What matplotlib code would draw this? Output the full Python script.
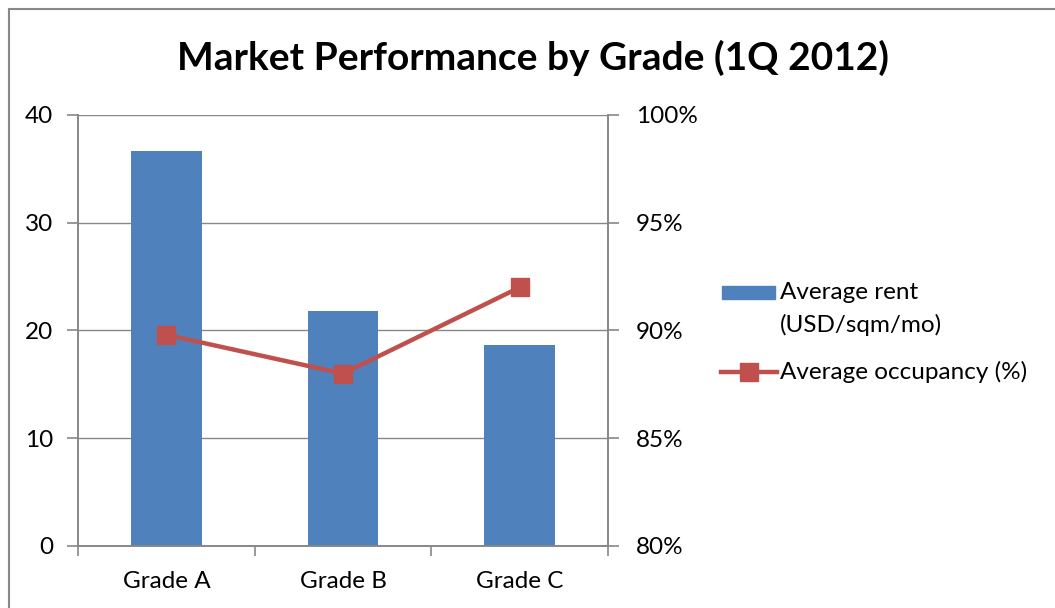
import matplotlib
matplotlib.use("Agg")
import matplotlib.pyplot as plt
from matplotlib.patches import Rectangle
from matplotlib.lines import Line2D
from matplotlib.ticker import FuncFormatter

categories = ["Grade A", "Grade B", "Grade C"]
avg_rent = [36.7, 21.8, 18.7]
avg_occupancy = [89.8, 88.0, 92.0]
left_ticks = [0, 10, 20, 30, 40]
right_ticks = [80, 85, 90, 95, 100]
legend_labels = ["Average rent\n(USD/sqm/mo)", "Average occupancy (%)"]

plt.rcParams['font.family'] = ['Lato', 'DejaVu Sans']

W, H = 1055, 608
fig = plt.figure(figsize=(W / 100, H / 100), dpi=100)

def fx(px):
    return px / W

def fy(py):
    return 1 - py / H

# chart border (gray frame, cut off at right/bottom)
fig.patches.append(Rectangle((fx(9), -0.1), 1.2, fy(9) + 0.1, transform=fig.transFigure,
                             fill=False, edgecolor='#888888', linewidth=1.5))

ax_l, ax_r, ax_t, ax_b = 78, 608, 115, 546
ax = fig.add_axes([fx(ax_l), fy(ax_b), (ax_r - ax_l) / W, (ax_b - ax_t) / H])
ax2 = ax.twinx()

grey = '#878787'
blue = '#4F81BD'
red = '#C0504D'
fs = 17.5

x = list(range(len(categories)))
ax.bar(x, avg_rent, width=0.4, color=blue, zorder=3)
ax.set_xlim(-0.5, len(categories) - 0.5)
ax.set_ylim(0, 40)
ax.set_yticks(left_ticks)
ax.yaxis.grid(True, color=grey, linewidth=1, zorder=0)
ax.set_axisbelow(True)

ax2.plot(x, avg_occupancy, color=red, linewidth=3.2, marker='s', markersize=12.5, zorder=4)
ax2.set_ylim(80, 100)
ax2.set_yticks(right_ticks)
ax2.yaxis.set_major_formatter(FuncFormatter(lambda v, p: f"{v:.0f}%"))

# x ticks at category boundaries, labels at centers
ax.set_xticks([-0.5, 0.5, 1.5, 2.5])
ax.set_xticklabels([])
ax.set_xticks(x, minor=True)
ax.set_xticklabels(categories, minor=True, fontsize=fs)
ax.tick_params(axis='x', which='minor', length=0, pad=18)
ax.tick_params(axis='x', which='major', length=7, width=1.2, color=grey, direction='out')
ax.tick_params(axis='y', length=8, width=1.2, color=grey, labelsize=fs, pad=10)
ax2.tick_params(axis='y', length=8, width=1.2, color=grey, labelsize=fs, pad=12)

for a in (ax, ax2):
    for s in a.spines.values():
        s.set_color(grey)
        s.set_linewidth(1.2)
    a.spines['top'].set_visible(False)

fig.text(fx(533), fy(58), "Market Performance by Grade (1Q 2012)", ha='center', va='center',
         fontsize=28, fontweight='bold')

# manual legend
fig.patches.append(Rectangle((fx(722), fy(299)), fx(775) - fx(722), fy(286) - fy(299),
                             transform=fig.transFigure, color=blue))
fig.text(fx(780), fy(293), legend_labels[0].split("\n")[0], ha='left', va='center', fontsize=fs)
fig.text(fx(780), fy(325), legend_labels[0].split("\n")[1], ha='left', va='center', fontsize=fs)
fig.lines.append(Line2D([fx(721), fx(777)], [fy(372), fy(372)], transform=fig.transFigure,
                        color=red, linewidth=3.2))
fig.lines.append(Line2D([fx(749)], [fy(372)], transform=fig.transFigure, color=red,
                        marker='s', markersize=12.5, linestyle='none'))
fig.text(fx(780), fy(372), legend_labels[1], ha='left', va='center', fontsize=fs)

fig.savefig("out.png", dpi=100)
